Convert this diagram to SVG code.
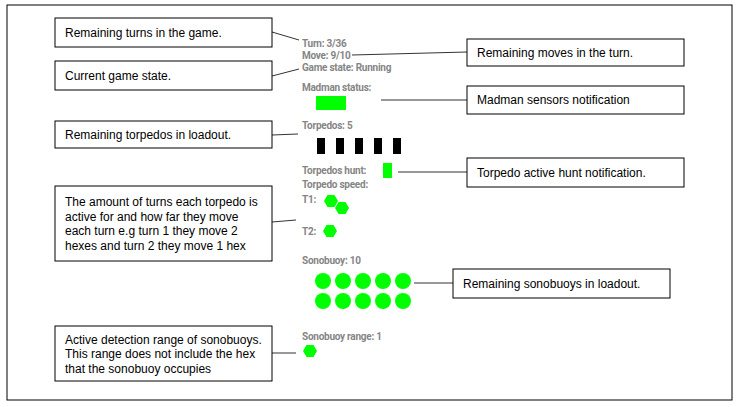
<svg xmlns="http://www.w3.org/2000/svg" width="739" height="407" viewBox="0 0 739 407">
<style>
.box{fill:#fff;stroke:#000;stroke-width:1}
.lbl{font-family:"Liberation Sans",Arial,sans-serif;font-size:12px;fill:#000}
.ui{font-family:Roboto,"DejaVu Sans",sans-serif;font-size:10px;font-weight:bold;fill:#858585;letter-spacing:-0.25px}
.con{fill:none;stroke:#333;stroke-width:1}
.g{fill:#00ff00}
.blk{fill:#000}
</style>
<defs>
<polygon id="hex" points="7,0 3.5,6.1 -3.5,6.1 -7,0 -3.5,-6.1 3.5,-6.1" class="g"/>
</defs>
<rect x="7" y="5" width="725" height="395" fill="#fff" stroke="#000" stroke-width="1"/>

<g id="ui">
<text class="ui" x="302" y="47">Turn: 3/36</text>
<text class="ui" x="302" y="59">Move: 9/10</text>
<text class="ui" x="302" y="71">Game state: Running</text>
<text class="ui" x="302" y="91">Madman status:</text>
<rect class="g" x="316" y="96" width="30" height="14"/>
<text class="ui" x="302" y="129">Torpedos: 5</text>
<rect class="blk" x="317" y="138" width="8" height="16"/>
<rect class="blk" x="336" y="138" width="8" height="16"/>
<rect class="blk" x="355" y="138" width="8" height="16"/>
<rect class="blk" x="374" y="138" width="8" height="16"/>
<rect class="blk" x="393" y="138" width="8" height="16"/>
<text class="ui" x="302" y="174">Torpedos hunt:</text>
<rect class="g" x="383" y="163" width="9" height="15"/>
<text class="ui" x="302" y="188">Torpedo speed:</text>
<text class="ui" x="302" y="203">T1:</text>
<use href="#hex" x="331" y="201"/>
<use href="#hex" x="342" y="208"/>
<text class="ui" x="302" y="235">T2:</text>
<use href="#hex" x="330" y="231"/>
<text class="ui" x="302" y="264">Sonobuoy: 10</text>
<g class="g">
<circle cx="323" cy="281" r="8"/><circle cx="343" cy="281" r="8"/><circle cx="363" cy="281" r="8"/><circle cx="383" cy="281" r="8"/><circle cx="403" cy="281" r="8"/>
<circle cx="323" cy="301" r="8"/><circle cx="343" cy="301" r="8"/><circle cx="363" cy="301" r="8"/><circle cx="383" cy="301" r="8"/><circle cx="403" cy="301" r="8"/>
</g>
<text class="ui" x="302" y="340">Sonobuoy range: 1</text>
<use href="#hex" x="310" y="351"/>
</g>

<g id="connectors">
<line class="con" x1="272" y1="32" x2="299" y2="40"/>
<line class="con" x1="272" y1="76" x2="299" y2="69"/>
<line class="con" x1="352" y1="55" x2="467" y2="52"/>
<line class="con" x1="381" y1="100" x2="467" y2="100"/>
<line class="con" x1="272" y1="135" x2="298" y2="134"/>
<line class="con" x1="398" y1="172" x2="467" y2="172"/>
<line class="con" x1="272" y1="222" x2="296" y2="220"/>
<line class="con" x1="414" y1="283" x2="453" y2="283"/>
<line class="con" x1="272" y1="353" x2="296" y2="353"/>
</g>

<g id="n-turns"><rect class="box" x="55" y="18" width="217" height="29"/><text class="lbl" x="65" y="37">Remaining turns in the game.</text></g>
<g id="n-state"><rect class="box" x="55" y="61" width="217" height="29"/><text class="lbl" x="65" y="80">Current game state.</text></g>
<g id="n-torpedos"><rect class="box" x="55" y="121" width="217" height="27"/><text class="lbl" x="65" y="139">Remaining torpedos in loadout.</text></g>
<g id="n-speed"><rect class="box" x="55" y="186" width="217" height="75"/>
<text class="lbl" x="65" y="206">The amount of turns each torpedo is</text>
<text class="lbl" x="65" y="221">active for and how far they move</text>
<text class="lbl" x="65" y="235">each turn e.g turn 1 they move 2</text>
<text class="lbl" x="65" y="250">hexes and turn 2 they move 1 hex</text></g>
<g id="n-range"><rect class="box" x="55" y="326" width="217" height="55"/>
<text class="lbl" x="65" y="344">Active detection range of sonobuoys.</text>
<text class="lbl" x="65" y="358">This range does not include the hex</text>
<text class="lbl" x="65" y="373">that the sonobuoy occupies</text></g>
<g id="n-moves"><rect class="box" x="467" y="39" width="217" height="27"/><text class="lbl" x="477" y="57">Remaining moves in the turn.</text></g>
<g id="n-madman"><rect class="box" x="467" y="86" width="217" height="28"/><text class="lbl" x="477" y="104">Madman sensors notification</text></g>
<g id="n-hunt"><rect class="box" x="467" y="158" width="217" height="29"/><text class="lbl" x="477" y="177">Torpedo active hunt notification.</text></g>
<g id="n-sono"><rect class="box" x="453" y="269" width="217" height="29"/><text class="lbl" x="463" y="288">Remaining sonobuoys in loadout.</text></g>
</svg>
